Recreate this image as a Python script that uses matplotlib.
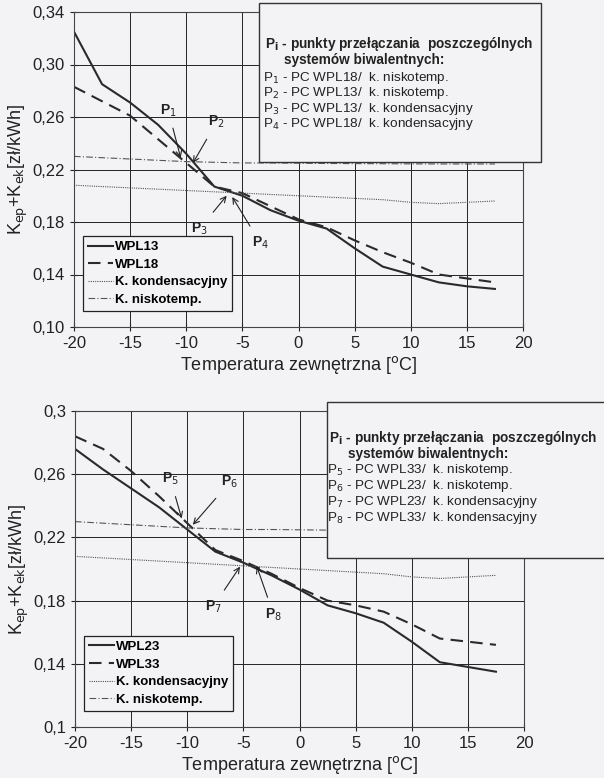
import matplotlib
matplotlib.use("Agg")
import matplotlib.pyplot as plt
from matplotlib.patches import Rectangle

plt.rcParams['font.family'] = ['Liberation Sans', 'DejaVu Sans']

temps = [-20, -17.5, -15, -12.5, -10, -7.5, -5, -2.5, 0, 2.5, 5, 7.5, 10, 12.5, 15, 17.5]

wpl13 = [0.325, 0.285, 0.271, 0.254, 0.232, 0.207, 0.200, 0.189, 0.181, 0.175, 0.160, 0.146, 0.140, 0.134, 0.131, 0.129]
wpl18 = [0.283, 0.272, 0.261, 0.243, 0.225, 0.207, 0.202, 0.192, 0.182, 0.176, 0.166, 0.157, 0.149, 0.140, 0.137, 0.134]

wpl23 = [0.276, 0.263, 0.251, 0.239, 0.225, 0.211, 0.204, 0.196, 0.187, 0.177, 0.172, 0.166, 0.154, 0.141, 0.138, 0.135]
wpl33 = [0.284, 0.276, 0.262, 0.246, 0.229, 0.212, 0.205, 0.197, 0.188, 0.180, 0.177, 0.173, 0.165, 0.156, 0.154, 0.152]

k_kond = [0.208, 0.207, 0.206, 0.205, 0.204, 0.203, 0.202, 0.201, 0.200, 0.199, 0.198, 0.197, 0.195, 0.194, 0.195, 0.196]
k_nisko = [0.230, 0.229, 0.228, 0.227, 0.226, 0.2255, 0.225, 0.225, 0.2248, 0.2246, 0.2245, 0.2244, 0.2243, 0.2242, 0.2242, 0.2242]

xticks = [-20, -15, -10, -5, 0, 5, 10, 15, 20]
yticks_top = [0.10, 0.14, 0.18, 0.22, 0.26, 0.30, 0.34]
ytick_labels_top = ['0,10', '0,14', '0,18', '0,22', '0,26', '0,30', '0,34']
yticks_bot = [0.10, 0.14, 0.18, 0.22, 0.26, 0.30]
ytick_labels_bot = ['0,1', '0,14', '0,18', '0,22', '0,26', '0,3']

legend_top = ['WPL13', 'WPL18', 'K. kondensacyjny', 'K. niskotemp.']
legend_bot = ['WPL23', 'WPL33', 'K. kondensacyjny', 'K. niskotemp.']

info_top = ['P$_1$ - PC WPL18/  k. niskotemp.', 'P$_2$ - PC WPL13/  k. niskotemp.',
            'P$_3$ - PC WPL13/  k. kondensacyjny', 'P$_4$ - PC WPL18/  k. kondensacyjny']
info_bot = ['P$_5$ - PC WPL33/  k. niskotemp.', 'P$_6$ - PC WPL23/  k. niskotemp.',
            'P$_7$ - PC WPL23/  k. kondensacyjny', 'P$_8$ - PC WPL33/  k. kondensacyjny']

# annotations: label, label pos, arrow target
ann_top = [('P$_1$', (-11.6, 0.265), (-10.5, 0.229)),
           ('P$_2$', (-7.3, 0.256), (-9.4, 0.225)),
           ('P$_3$', (-8.8, 0.175), (-6.4, 0.200)),
           ('P$_4$', (-3.4, 0.164), (-5.9, 0.199))]
ann_bot = [('P$_5$', (-11.5, 0.257), (-10.5, 0.232)),
           ('P$_6$', (-6.2, 0.255), (-9.5, 0.228)),
           ('P$_7$', (-7.7, 0.176), (-5.3, 0.2015)),
           ('P$_8$', (-2.3, 0.171), (-3.8, 0.2015))]

BG = '#f3f3f5'
W, H = 604, 778
fig = plt.figure(figsize=(W / 100, H / 100), dpi=100, facecolor=BG)

def px_axes(left, top, right, bottom):
    return [left / W, 1 - bottom / H, (right - left) / W, (bottom - top) / H]

def draw(ax, a, b, labels, yt, ytl, ylim, anns):
    ax.set_facecolor(BG)
    ax.plot(temps, a, color='#2a2a2a', lw=1.5, ls='-', label=labels[0])
    ax.plot(temps, b, color='#2a2a2a', lw=1.5, ls=(0, (6, 3.5)), label=labels[1])
    ax.plot(temps, k_kond, color='#555555', lw=0.8, ls=(0, (1, 1)), label=labels[2])
    ax.plot(temps, k_nisko, color='#555555', lw=0.8, ls=(0, (6, 2, 1, 2)), label=labels[3])
    ax.set_xlim(-20, 20)
    ax.set_ylim(*ylim)
    ax.set_xticks(xticks)
    ax.set_xticklabels([str(v) for v in xticks])
    ax.set_yticks(yt)
    ax.set_yticklabels(ytl)
    ax.grid(True, color='#222222', lw=0.7)
    ax.tick_params(labelsize=12, direction='inout', length=6, width=0.8, colors='#222222')
    for s in ax.spines.values():
        s.set_linewidth(0.8)
        s.set_color('#444444')
    ax.set_xlabel('Temperatura zewnętrzna [$^{\\mathrm{o}}$C]', fontsize=13, labelpad=2, color='#222222')
    ax.set_ylabel('K$_{\\mathrm{ep}}$+K$_{\\mathrm{ek}}$[zł/kWh]', fontsize=13, labelpad=2, color='#222222')
    leg = ax.legend(loc='lower left', bbox_to_anchor=(0.005, 0.03), frameon=True, fancybox=False,
                    edgecolor='#222222', facecolor=BG, framealpha=1, handlelength=1.9,
                    handletextpad=0.1, borderpad=0.4, labelspacing=0.4,
                    prop={'weight': 'bold', 'size': 9.5})
    leg.get_frame().set_linewidth(0.9)
    for lab, pos, tgt in anns:
        ax.annotate(lab, xy=tgt, xytext=pos, fontsize=10, fontweight='bold', ha='center', va='center',
                    color='#222222',
                    arrowprops=dict(arrowstyle='->', color='#222222', lw=0.8, shrinkA=5, shrinkB=0))

ax1 = fig.add_axes(px_axes(74, 12, 523, 327))
draw(ax1, wpl13, wpl18, legend_top, yticks_top, ytick_labels_top, (0.10, 0.34), ann_top)
ax2 = fig.add_axes(px_axes(75, 411, 524, 727))
draw(ax2, wpl23, wpl33, legend_bot, yticks_bot, ytick_labels_bot, (0.10, 0.30), ann_bot)

def info_box(left, top, right, bottom, x0, y_lines, lines):
    fig.patches.append(Rectangle((left / W, 1 - bottom / H), (right - left) / W, (bottom - top) / H,
                                 transform=fig.transFigure, facecolor=BG, edgecolor='#333333',
                                 lw=1.0, zorder=5))
    fig.text(x0 / W, 1 - y_lines[0] / H, 'P$_\\mathbf{i}$ - punkty przełączania  poszczególnych',
             fontsize=9.8, fontweight='bold', va='center', color='#222222', zorder=6)
    fig.text((x0 + 19) / W, 1 - y_lines[1] / H, 'systemów biwalentnych:',
             fontsize=9.8, fontweight='bold', va='center', color='#222222', zorder=6)
    for y, t in zip(y_lines[2:], lines):
        fig.text((x0 - 2) / W, 1 - y / H, t, fontsize=9.7, va='center', color='#222222', zorder=6)

info_box(259, 3, 541, 162, 265, [44, 60, 78, 93, 109, 124], info_top)
info_box(327, 402, 612, 558, 329, [438, 454, 470, 486, 502, 518], info_bot)

fig.savefig('out.png', dpi=100, facecolor=BG)
